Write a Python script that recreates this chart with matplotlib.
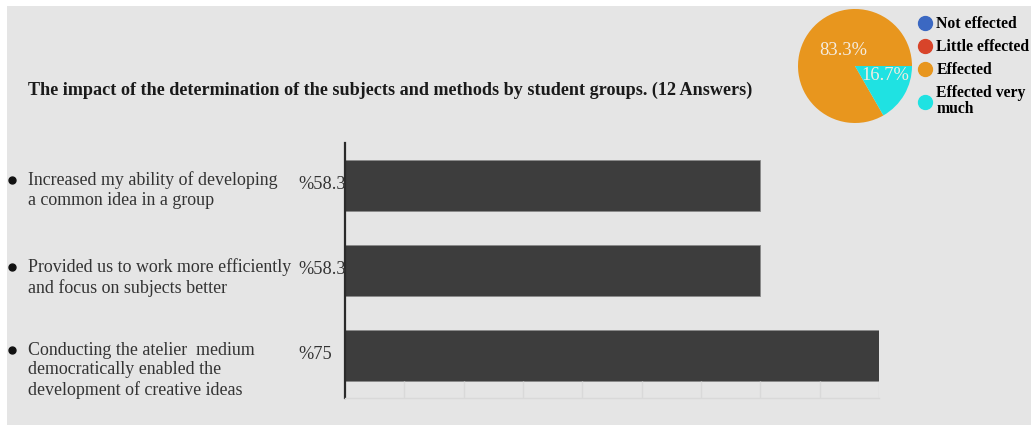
import matplotlib
matplotlib.use("Agg")
import matplotlib.pyplot as plt
from matplotlib.lines import Line2D
from matplotlib.patches import Rectangle
import numpy as np

plt.rcParams["font.family"] = ["Liberation Serif", "DejaVu Serif"]

# Survey data (12 answers)
statements = [
    "Increased my ability of developing\na common idea in a group",
    "Provided us to work more efficiently\nand focus on subjects better",
    "Conducting the atelier  medium\ndemocratically enabled the\ndevelopment of creative ideas",
]
percent = [58.3, 58.3, 75]
value_labels = ["%58.3", "%58.3", "%75"]

pie_labels = ["Not effected", "Little effected", "Effected", "Effected very\nmuch"]
pie_values = [0, 0, 83.3, 16.7]
pie_colors = ["#3b68c2", "#d8442a", "#e8961e", "#1fe2e2"]

W, H = 1031, 425
fig = plt.figure(figsize=(W / 100, H / 100), dpi=100, facecolor="white")
fig.patches.append(Rectangle((7 / W, 0), 1 - 7 / W, 1 - 6 / H,
                             transform=fig.transFigure, facecolor="#e5e5e5",
                             edgecolor="none", zorder=-10))

title = "The impact of the determination of the subjects and methods by student groups. (12 Answers)"
fig.text(28 / W, 1 - 90 / H, title, fontsize=13.1, fontweight="bold",
         ha="left", va="center", color="#1a1a1a")

# Bar chart
ax = fig.add_axes([345 / W, 1 - 398 / H, (879 - 345) / W, (398 - 143) / H])
ax.set_facecolor("none")
y = np.arange(len(percent))
bar_h = 0.61
ax.barh(y, percent, height=bar_h, color="#3d3d3d", edgecolor="#8a8a8a", linewidth=0.6)
ax.set_xlim(0, 75)
ax.set_ylim(2.5, -0.5)

grid_x = np.arange(1, 10) * 100 / 12
ax.vlines(grid_x[grid_x < 75.01], y[-1] + bar_h / 2, 2.5, color="#d9d9d9", linewidth=1)

for s in ["top", "right"]:
    ax.spines[s].set_visible(False)
ax.spines["left"].set_color("#2a2a2a")
ax.spines["left"].set_linewidth(1.6)
ax.spines["bottom"].set_color("#d9d9d9")
ax.spines["bottom"].set_linewidth(1)
ax.set_xticks([])
ax.set_yticks([])

line_gap = 20 / 85  # one text line, in bar units
first_line = [-0.06, -0.04, -0.06]
for yi, txt, val, off in zip(y, statements, value_labels, first_line):
    ax.text(-6.6, yi - 0.01, val, fontsize=13.2, ha="left", va="center", color="#333333")
    n = txt.count("\n")
    first = yi + off
    ax.text(-44.5, first + n * line_gap / 2, txt, fontsize=12.9, ha="left", va="center",
            color="#333333", linespacing=1.22)
    ax.plot([-46.7], [first], marker="o", markersize=5, color="#111111",
            clip_on=False)

# Pie chart
pax = fig.add_axes([(855 - 57) / W, 1 - (66 + 57) / H, 114 / W, 114 / H])
nz = [(v, c) for v, c in zip(pie_values, pie_colors) if v > 0]
wedges, texts, autotexts = pax.pie([v for v, _ in nz], colors=[c for _, c in nz],
                                   startangle=0, counterclock=True,
                                   autopct="%1.1f%%", pctdistance=0.5,
                                   textprops=dict(color="#f4ece0", fontsize=13.3))
autotexts[0].set_position((-0.21, 0.28))
autotexts[1].set_position((0.53, -0.17))
pax.set_xlim(-1, 1)
pax.set_ylim(-1, 1)
pax.set_aspect("equal")

handles = [Line2D([], [], marker="o", linestyle="none", markersize=10,
                  markerfacecolor=c, markeredgecolor=c) for c in pie_colors]
leg = fig.legend(handles, pie_labels, loc="upper left", bbox_to_anchor=(909 / W, 1 - 10 / H),
                 frameon=False, handletextpad=0.15, labelspacing=0.45, borderaxespad=0,
                 handlelength=1.2, prop=dict(weight="bold", size=11.3))
leg.get_texts()[3].set_linespacing(0.95)

fig.savefig("out.png", dpi=100, facecolor=fig.get_facecolor())
